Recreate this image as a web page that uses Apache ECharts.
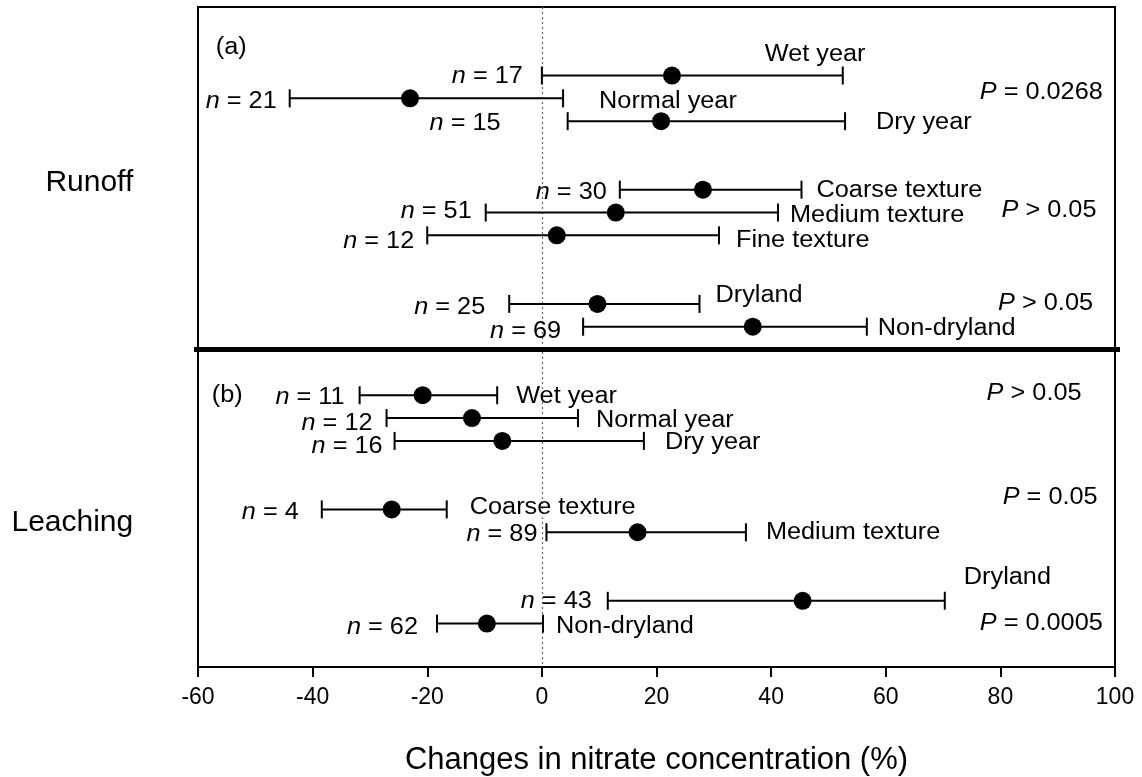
<!DOCTYPE html>
<html><head><meta charset="utf-8">
<script src="https://cdn.jsdelivr.net/npm/echarts@6/dist/echarts.min.js"></script>
<style>html,body{margin:0;padding:0;background:#fff}#c{width:1142px;height:777px}</style>
</head><body><div id="c"></div>
<script>
// ---------------- data ----------------
const rowLabels = ['Wet year','Normal year','Dry year','Coarse texture','Medium texture','Fine texture','Dryland','Non-dryland',
                   'Wet year','Normal year','Dry year','Coarse texture','Medium texture','Dryland','Non-dryland'];
const sampleSizes = [17,21,15,30,51,12,25,69,11,12,16,4,89,43,62];
const means   = [22.7,-23.0,20.8,28.1,12.9,2.6,9.7,36.8,-20.8,-12.2,-6.9,-26.2,16.7,45.5,-9.6];
const lowerCI = [0.0,-44.0,4.5,13.6,-9.8,-20.0,-5.7,7.2,-31.8,-27.1,-25.7,-38.4,0.8,11.5,-18.3];
const upperCI = [52.5,3.7,52.9,45.3,41.2,30.9,27.5,56.7,-7.8,6.3,17.8,-16.6,35.6,70.3,0.2];
const groupSizes = [3,3,2,3,2,2];
const panelNames = ['Runoff','Leaching'];
const panelTags = ['(a)','(b)'];
const pSigns = ['=','>','>','>','=','='];
const pNumbers = ['0.0268','0.05','0.05','0.05','0.05','0.0005'];
const xMin = -60, xMax = 100, xStep = 20;
const axisTitle = 'Changes in nitrate concentration (%)';

// ---------------- layout (not data) ----------------
// per row: [gap n-label to left cap, n-label dy, name dx from right cap, name dy]
const labelLayout = [[19,-1,-78,-23],[13,1,36,1],[67,0,31,-1],[13,0,15,-2],[14,-3,12,1],[13,4,17,3],[24,1,16,-11],[22,2,11,-1],
                     [15,0,19,-1],[14,3,18,0],[12,3,21,-1],[23,1,23,-4],[9,0,20,-2],[16,-2,19,-26],[19,2,13,1]];
const pLayout = [[76.4,3.63],[80.2,8.79],[79.6,12.9],[77.6,16.84],[80.4,21.37],[76.4,26.91]];
const tagLayout = [[-56.9,1.66],[-57.6,16.9]];
const panelLabelLayout = [[-71.3,7.57],[-71.3,22.46]];
const FONT = '"Liberation Sans", Arial, sans-serif';
const SX = 1.1, FS = 23, TDY = 2.5;

// row positions (slot units) computed from group structure
const rowPos = [];
let k = 3;
groupSizes.forEach(n => { for (let j = 0; j < n; j++) rowPos.push(k + j); k += n + 2; });
const separatorPos = rowPos[8] - 2;

const rowData = rowLabels.map((_, i) => [lowerCI[i], upperCI[i], rowPos[i]]);
const dotData = means.map((m, i) => [m, rowPos[i]]);

function txt(x, y, text, align) {
  return {type:'text', x:x, y:y + TDY, scaleX:SX, originX:0, originY:0,
    style:{text:text, x:0, y:0, align:align, verticalAlign:'middle', fontSize:FS, fontFamily:FONT, fill:'#000',
      rich:{i:{fontStyle:'italic', fontSize:FS, fontFamily:FONT, fill:'#000'}, r:{fontSize:FS, fontFamily:FONT, fill:'#000'}}}};
}

const chart = echarts.init(document.getElementById('c'), null, {renderer:'canvas'});
chart.setOption({
  animation:false,
  backgroundColor:'#fff',
  grid:{left:198, right:27, top:7, bottom:110, show:true, borderColor:'#000', borderWidth:2,
        containLabel:false, outerBoundsMode:'none'},
  xAxis:{type:'value', min:xMin, max:xMax, interval:xStep,
    axisLine:{show:true, onZero:false, lineStyle:{color:'#000', width:2}},
    axisTick:{show:true, inside:false, length:10, lineStyle:{color:'#000', width:2}},
    axisLabel:{color:'#000', fontSize:23, fontFamily:FONT, margin:19},
    splitLine:{show:false},
    name:axisTitle, nameLocation:'middle', nameGap:78,
    nameTextStyle:{color:'#000', fontSize:31, fontFamily:FONT}},
  yAxis:{type:'value', min:0, max:28.9, inverse:true, show:false, splitLine:{show:false}},
  series:[
    {type:'custom', z:3, data:rowData, encode:{x:[0,1], y:2},
     renderItem:function(params, api){
       const i = params.dataIndex;
       const lo = api.coord([api.value(0), api.value(2)]);
       const hi = api.coord([api.value(1), api.value(2)]);
       const y = lo[1], c = 9, L = labelLayout[i];
       const st = {stroke:'#000', lineWidth:2};
       return {type:'group', children:[
         {type:'line', shape:{x1:lo[0], y1:y, x2:hi[0], y2:y}, style:st},
         {type:'line', shape:{x1:lo[0], y1:y-c, x2:lo[0], y2:y+c}, style:st},
         {type:'line', shape:{x1:hi[0], y1:y-c, x2:hi[0], y2:y+c}, style:st},
         txt(lo[0]-L[0], y+L[1], '{i|n}{r| = ' + sampleSizes[i] + '}', 'right'),
         txt(hi[0]+L[2], y+L[3], rowLabels[i], 'left')
       ]};
     }},
    {type:'scatter', z:5, data:dotData, symbol:'circle', symbolSize:18, itemStyle:{color:'#000', opacity:1},
     markLine:{silent:true, symbol:['none','none'], label:{show:false}, z:1,
       lineStyle:{type:[2,3], color:'#666', width:1.2}, data:[{xAxis:0}]}},
    {type:'custom', z:4, data:[[xMin, separatorPos],[xMax, separatorPos]], encode:{x:0, y:1},
     renderItem:function(params, api){
       if (params.dataIndex !== 0) return null;
       const a = api.coord([xMin, separatorPos]), b = api.coord([xMax, separatorPos]);
       return {type:'line', shape:{x1:a[0]-4, y1:a[1], x2:b[0]+5, y2:b[1]}, style:{stroke:'#000', lineWidth:5}};
     }},
    {type:'custom', z:4, data:pLayout, encode:{x:0, y:1},
     renderItem:function(params, api){
       const p = api.coord([api.value(0), api.value(1)]);
       return txt(p[0], p[1], '{i|P}{r| ' + pSigns[params.dataIndex] + ' ' + pNumbers[params.dataIndex] + '}', 'left');
     }},
    {type:'custom', z:4, data:tagLayout, encode:{x:0, y:1},
     renderItem:function(params, api){
       const p = api.coord([api.value(0), api.value(1)]);
       return txt(p[0], p[1], panelTags[params.dataIndex], 'left');
     }},
    {type:'custom', z:4, data:panelLabelLayout, encode:{x:0, y:1}, clip:false,
     renderItem:function(params, api){
       const p = api.coord([api.value(0), api.value(1)]);
       return {type:'text', x:p[0], y:p[1] + TDY, style:{text:panelNames[params.dataIndex], x:0, y:0, align:'right', verticalAlign:'middle',
         fontSize:30, fontFamily:FONT, fill:'#000'}};
     }}
  ]
});
</script></body></html>
